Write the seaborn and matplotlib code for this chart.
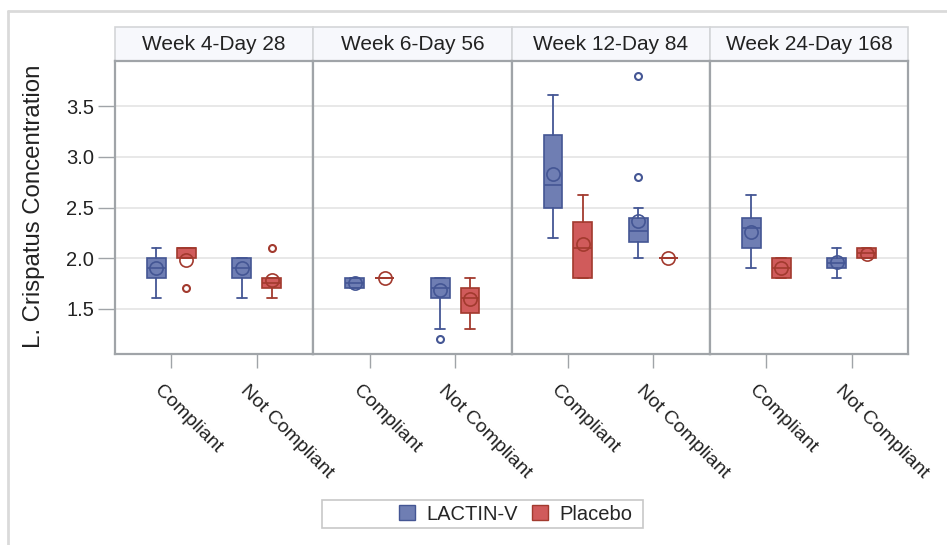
import matplotlib
matplotlib.use("Agg")
import matplotlib.pyplot as plt
from matplotlib.patches import Rectangle, Patch
from matplotlib.lines import Line2D
from matplotlib.transforms import ScaledTranslation
import numpy as np
import pandas as pd
import seaborn as sns

# ---------------- data ----------------
weeks = ["Week 4-Day 28", "Week 6-Day 56", "Week 12-Day 84", "Week 24-Day 168"]
compliance = ["Compliant", "Not Compliant"]
treatments = ["LACTIN-V", "Placebo"]

# order within each week: Compliant/LACTIN-V, Compliant/Placebo, Not Compliant/LACTIN-V, Not Compliant/Placebo
whislo = [1.6, 2.0, 1.6, 1.6,   1.7, 1.8, 1.3, 1.3,   2.2, 1.8, 2.0, 2.0,   1.9, 1.8, 1.8, 2.0]
q1     = [1.8, 2.0, 1.8, 1.7,   1.7, 1.8, 1.6, 1.46,  2.5, 1.8, 2.16, 2.0,  2.1, 1.8, 1.9, 2.0]
median = [1.9, 2.1, 1.9, 1.75,  1.75, 1.8, 1.7, 1.6,  2.72, 2.1, 2.27, 2.0, 2.3, 1.9, 1.95, 2.05]
q3     = [2.0, 2.1, 2.0, 1.8,   1.8, 1.8, 1.8, 1.7,   3.22, 2.36, 2.4, 2.0, 2.4, 2.0, 2.0, 2.1]
whishi = [2.1, 2.1, 2.0, 1.8,   1.8, 1.8, 1.8, 1.8,   3.61, 2.62, 2.5, 2.0, 2.62, 2.0, 2.1, 2.1]
means  = [1.9, 1.98, 1.9, 1.78, 1.75, 1.8, 1.68, 1.59, 2.83, 2.14, 2.37, 2.0, 2.26, 1.9, 1.96, 2.04]
outliers = [[], [1.7], [], [2.1],   [], [], [1.2], [],   [], [], [2.8, 3.8], [],   [], [], [], []]

yticks = [1.5, 2.0, 2.5, 3.0, 3.5]

rows = []
i = 0
for w in weeks:
    for c in compliance:
        for t in treatments:
            rows.append(dict(week=w, compliance=c, treatment=t,
                             whislo=whislo[i], q1=q1[i], med=median[i], q3=q3[i],
                             whishi=whishi[i], mean=means[i], fliers=outliers[i]))
            i += 1
df = pd.DataFrame(rows)

# ---------------- style ----------------
sns.set_theme(style="white")
plt.rcParams["font.family"] = ["Liberation Sans", "DejaVu Sans"]

fill = {"LACTIN-V": "#6F7EB3", "Placebo": "#D05B5B"}
edge = {"LACTIN-V": "#445694", "Placebo": "#A23A2E"}
offset = {"LACTIN-V": -0.175, "Placebo": 0.175}
BOXW = 0.22


def draw_panel(data, **kws):
    ax = plt.gca()
    for t in treatments:
        sub = data[data["treatment"] == t]
        stats, pos = [], []
        for _, r in sub.iterrows():
            stats.append(dict(med=r["med"], q1=r["q1"], q3=r["q3"], whislo=r["whislo"],
                              whishi=r["whishi"], mean=r["mean"], fliers=np.array(r["fliers"])))
            pos.append(compliance.index(r["compliance"]) + offset[t])
        ec = edge[t]
        ax.bxp(stats, positions=pos, widths=BOXW, patch_artist=True, showmeans=True,
               capwidths=BOXW * 0.5, manage_ticks=False,
               boxprops=dict(facecolor=fill[t], edgecolor=ec, linewidth=1.2),
               medianprops=dict(color=ec, linewidth=1.2),
               whiskerprops=dict(color=ec, linewidth=1.3),
               capprops=dict(color=ec, linewidth=1.3),
               meanprops=dict(marker="o", markerfacecolor="none", markeredgecolor=ec,
                              markersize=9.5, markeredgewidth=1.2),
               flierprops=dict(marker="o", markerfacecolor="none", markeredgecolor=ec,
                               markersize=5, markeredgewidth=1.5))


g = sns.FacetGrid(df, col="week", col_order=weeks, sharey=True, sharex=True,
                  height=4, aspect=0.6, despine=False)
g.map_dataframe(draw_panel)

fig = g.figure
fig.set_size_inches(9.47, 5.45)
W, H = 947.0, 545.0
fig.subplots_adjust(left=115 / W, right=908 / W, top=1 - 61 / H, bottom=1 - 354 / H, wspace=0)

spine_c = "#A0A4A8"
shift = ScaledTranslation(-8 / 100, -6 / 100, fig.dpi_scale_trans)
for k, ax in enumerate(g.axes.flat):
    ax.set_title("")
    ax.set_xlabel("")
    ax.set_ylabel("")
    ax.set_xlim(-0.66, 1.66)
    ax.set_ylim(1.05, 3.95)
    ax.set_yticks(yticks)
    ax.set_xticks(range(len(compliance)))
    ax.set_xticklabels(compliance, rotation=-45, ha="left", va="top",
                       rotation_mode="anchor", fontsize=14, color="#222222")
    ax.tick_params(axis="x", length=10, width=1, color=spine_c, pad=6, bottom=True)
    for lab in ax.get_xticklabels():
        lab.set_transform(lab.get_transform() + shift)
    if k == 0:
        ax.tick_params(axis="y", length=12, width=1, color=spine_c, labelsize=14.5,
                       labelcolor="#222222", left=True, pad=3)
        ax.set_yticklabels([f"{v:.1f}" for v in yticks])
    else:
        ax.tick_params(axis="y", length=0, left=False, labelleft=False)
    ax.grid(axis="y", color="#E4E4E4", linewidth=1.2)
    ax.grid(axis="x", visible=False)
    ax.set_axisbelow(True)
    for s in ax.spines.values():
        s.set_color(spine_c)
        s.set_linewidth(1.6)
    # header strip
    hh = 34 / 293.0
    ax.add_patch(Rectangle((0, 1), 1, hh, transform=ax.transAxes, clip_on=False,
                           facecolor="#F7F8FC", edgecolor="#D4D6D8", linewidth=1.2, zorder=0))
    ax.text(0.5, 1 + hh * 0.5, weeks[k], transform=ax.transAxes, ha="center",
            va="center", fontsize=15, color="#222222")

fig.text(34 / W, 1 - 206 / H, "L. Crispatus Concentration", rotation=90,
         ha="center", va="center", fontsize=17.3, color="#222222")

# outer frame (left and top visible)
fig.add_artist(Line2D([8 / W, 8 / W], [0, 1 - 11 / H], transform=fig.transFigure,
                      color="#DADADA", linewidth=2))
fig.add_artist(Line2D([8 / W, 1], [1 - 11 / H, 1 - 11 / H], transform=fig.transFigure,
                      color="#DADADA", linewidth=2))

# legend
fig.add_artist(Rectangle((322 / W, 1 - 528 / H), (643 - 322) / W, 28 / H,
                         transform=fig.transFigure, fill=False, edgecolor="#C8C8C8",
                         linewidth=1.2))
handles = [Patch(facecolor=fill[t], edgecolor=edge[t], linewidth=1) for t in treatments]
fig.legend(handles, treatments, loc="center left", bbox_to_anchor=(399 / W, 1 - 514 / H),
           ncol=2, frameon=False, fontsize=14.5, handlelength=0.8, handleheight=0.8,
           handletextpad=0.55, columnspacing=0.7, borderpad=0, borderaxespad=0)

fig.savefig("out.png", dpi=100)
